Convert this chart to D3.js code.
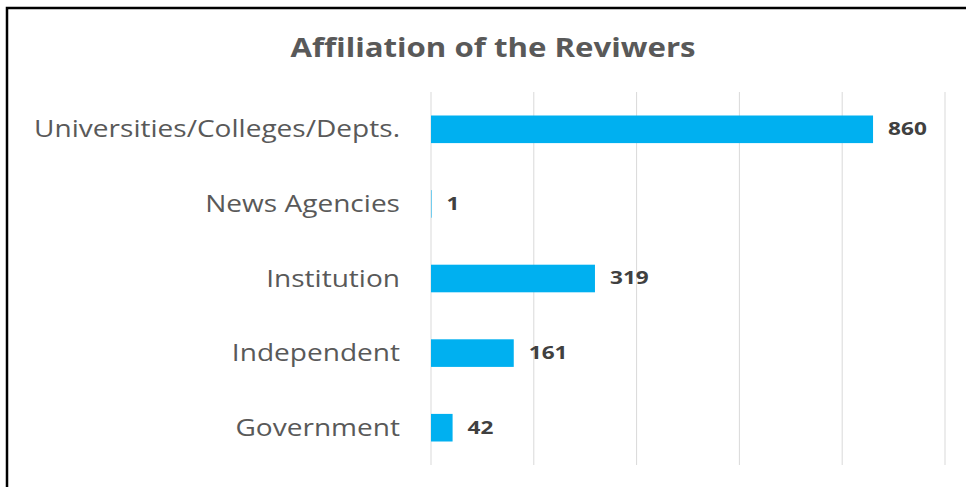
<!DOCTYPE html>
<html>
<head>
  <meta charset="utf-8">
  <title>Affiliation of the Reviwers</title>
  <style>
    body { margin: 0; background: #fff; }
    svg { display: block; }
  </style>
</head>
<body>
  <svg width="966" height="487"></svg>
  <script src="https://d3js.org/d3.v7.min.js"></script>
  <script>
    const categories = ["Universities/Colleges/Depts.", "News Agencies", "Institution", "Independent", "Government"];
    const counts = [860, 1, 319, 161, 42];
    const ticks = [0, 200, 400, 600, 800, 1000];

    const svg = d3.select("svg");
    // the original picture is stretched sideways, so the text is too
    const wide = 1.22;

    // frame (runs off the right and bottom edge in the original)
    svg.append("rect")
      .attr("x", 7).attr("y", 8)
      .attr("width", 980).attr("height", 500)
      .attr("fill", "#fff")
      .attr("stroke", "#000")
      .attr("stroke-width", 2.5);

    svg.append("text")
      .attr("transform", `translate(493,57) scale(1.2,1)`)
      .attr("text-anchor", "middle")
      .attr("font-family", "Open Sans, sans-serif")
      .attr("font-weight", "bold")
      .attr("font-size", 26)
      .attr("fill", "#595959")
      .text("Affiliation of the Reviwers");

    const x = d3.scaleLinear().domain([0, 1000]).range([431, 945]);
    const y = d3.scaleBand().domain(categories).range([92, 465]).paddingInner(0.63).paddingOuter(0.315);

    svg.append("g").selectAll("line")
      .data(ticks).enter()
      .append("line")
      .attr("x1", d => x(d)).attr("x2", d => x(d))
      .attr("y1", 92).attr("y2", 465)
      .attr("stroke", "#d9d9d9")
      .attr("stroke-width", 1);

    const rows = categories.map((c, i) => ({ cat: c, val: counts[i] }));

    svg.append("g").selectAll("rect")
      .data(rows).enter()
      .append("rect")
      .attr("x", x(0))
      .attr("y", d => y(d.cat))
      .attr("width", d => x(d.val) - x(0))
      .attr("height", y.bandwidth())
      .attr("fill", "#00b0f0");

    svg.append("g").selectAll("text")
      .data(rows).enter()
      .append("text")
      .attr("transform", d => `translate(${x(d.val) + 15},${y(d.cat) + y.bandwidth() / 2}) scale(1.33,1)`)
      .attr("dy", "0.35em")
      .attr("font-family", "Open Sans, sans-serif")
      .attr("font-weight", "bold")
      .attr("font-size", 17)
      .attr("fill", "#404040")
      .text(d => d.val);

    svg.append("g").selectAll("text")
      .data(categories).enter()
      .append("text")
      .attr("transform", d => `translate(400,${y(d) + y.bandwidth() / 2}) scale(${wide},1)`)
      .attr("dy", "0.35em")
      .attr("text-anchor", "end")
      .attr("font-family", "Open Sans, sans-serif")
      .attr("font-size", 23)
      .attr("fill", "#595959")
      .text(d => d);
  </script>
</body>
</html>
